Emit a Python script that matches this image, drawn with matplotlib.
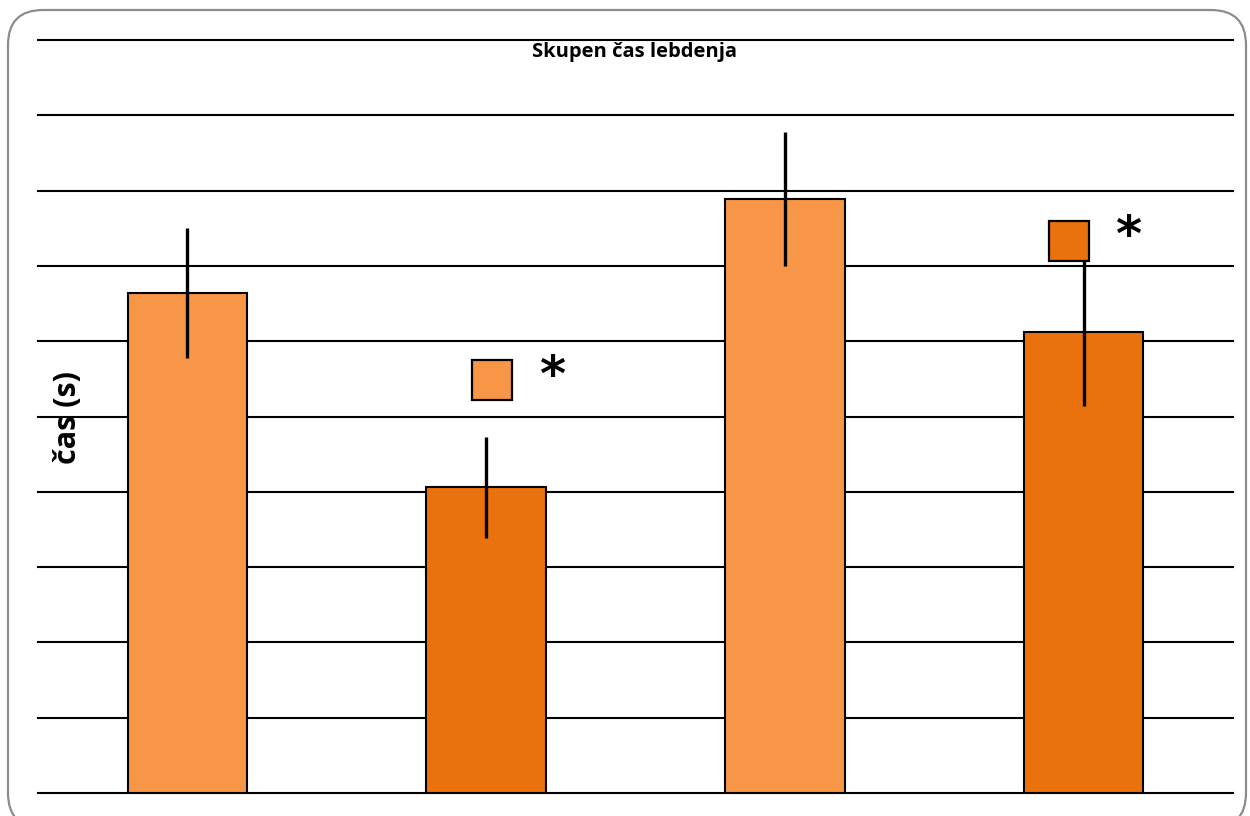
import matplotlib
matplotlib.use('Agg')
import matplotlib.pyplot as plt
from matplotlib.patches import FancyBboxPatch

# podatki
skupine = ['A', 'B', 'C', 'D']
cas = [6.64, 4.06, 7.89, 6.12]
napaka = [0.86, 0.67, 0.89, 0.98]
barve = ['#F79646', '#EA720C', '#F79646', '#EA720C']

# oznake znacilnosti (kvadrat + zvezdica)
oznaka_x = [1.02, 2.95]
oznaka_y = [5.48, 7.33]
oznaka_barva = ['#F79646', '#EA720C']

fig = plt.figure(figsize=(12.5, 8.16), dpi=100)
ax = fig.add_axes([38 / 1250, 23 / 816, 1195 / 1250, 753 / 816])

x = range(len(skupine))
ax.bar(x, cas, width=0.40, color=barve, edgecolor='black', linewidth=1.5, zorder=3)
ax.errorbar(x, cas, yerr=napaka, fmt='none', ecolor='black', elinewidth=2.4, capsize=0, zorder=4)

for xi, yi, b in zip(oznaka_x, oznaka_y, oznaka_barva):
    ax.plot(xi, yi, marker='s', markersize=29, markerfacecolor=b,
            markeredgecolor='black', markeredgewidth=1.6, zorder=5)
    ax.text(xi + 0.2, yi + 0.05, '*', fontsize=36, fontweight='bold',
            ha='center', va='center', zorder=5)

ax.set_xlim(-0.5, 3.5)
ax.set_ylim(0, 10)
ax.set_xticks([])
ax.set_yticks([])
for s in ax.spines.values():
    s.set_visible(False)

# mreza
for yy in range(0, 11):
    ax.axhline(yy, color='black', linewidth=1.5, zorder=0, clip_on=False)

fig.text(0.508, 1 - 52 / 816, 'Skupen čas lebdenja', ha='center', va='center',
         fontsize=14.5, fontweight='bold', family='Open Sans')
fig.text(68 / 1250, 1 - 418 / 816, 'čas (s)', ha='center', va='center', rotation=90,
         fontsize=22, fontweight='bold', family='Open Sans')

# zaobljen okvir
okvir = FancyBboxPatch((0.08, -0.12), 12.38, 8.18, boxstyle='round,pad=0,rounding_size=0.35',
                       transform=fig.dpi_scale_trans, facecolor='none',
                       edgecolor='#8C8C8C', linewidth=1.6, clip_on=False)
fig.patches.append(okvir)

fig.savefig('out.png', dpi=100)
